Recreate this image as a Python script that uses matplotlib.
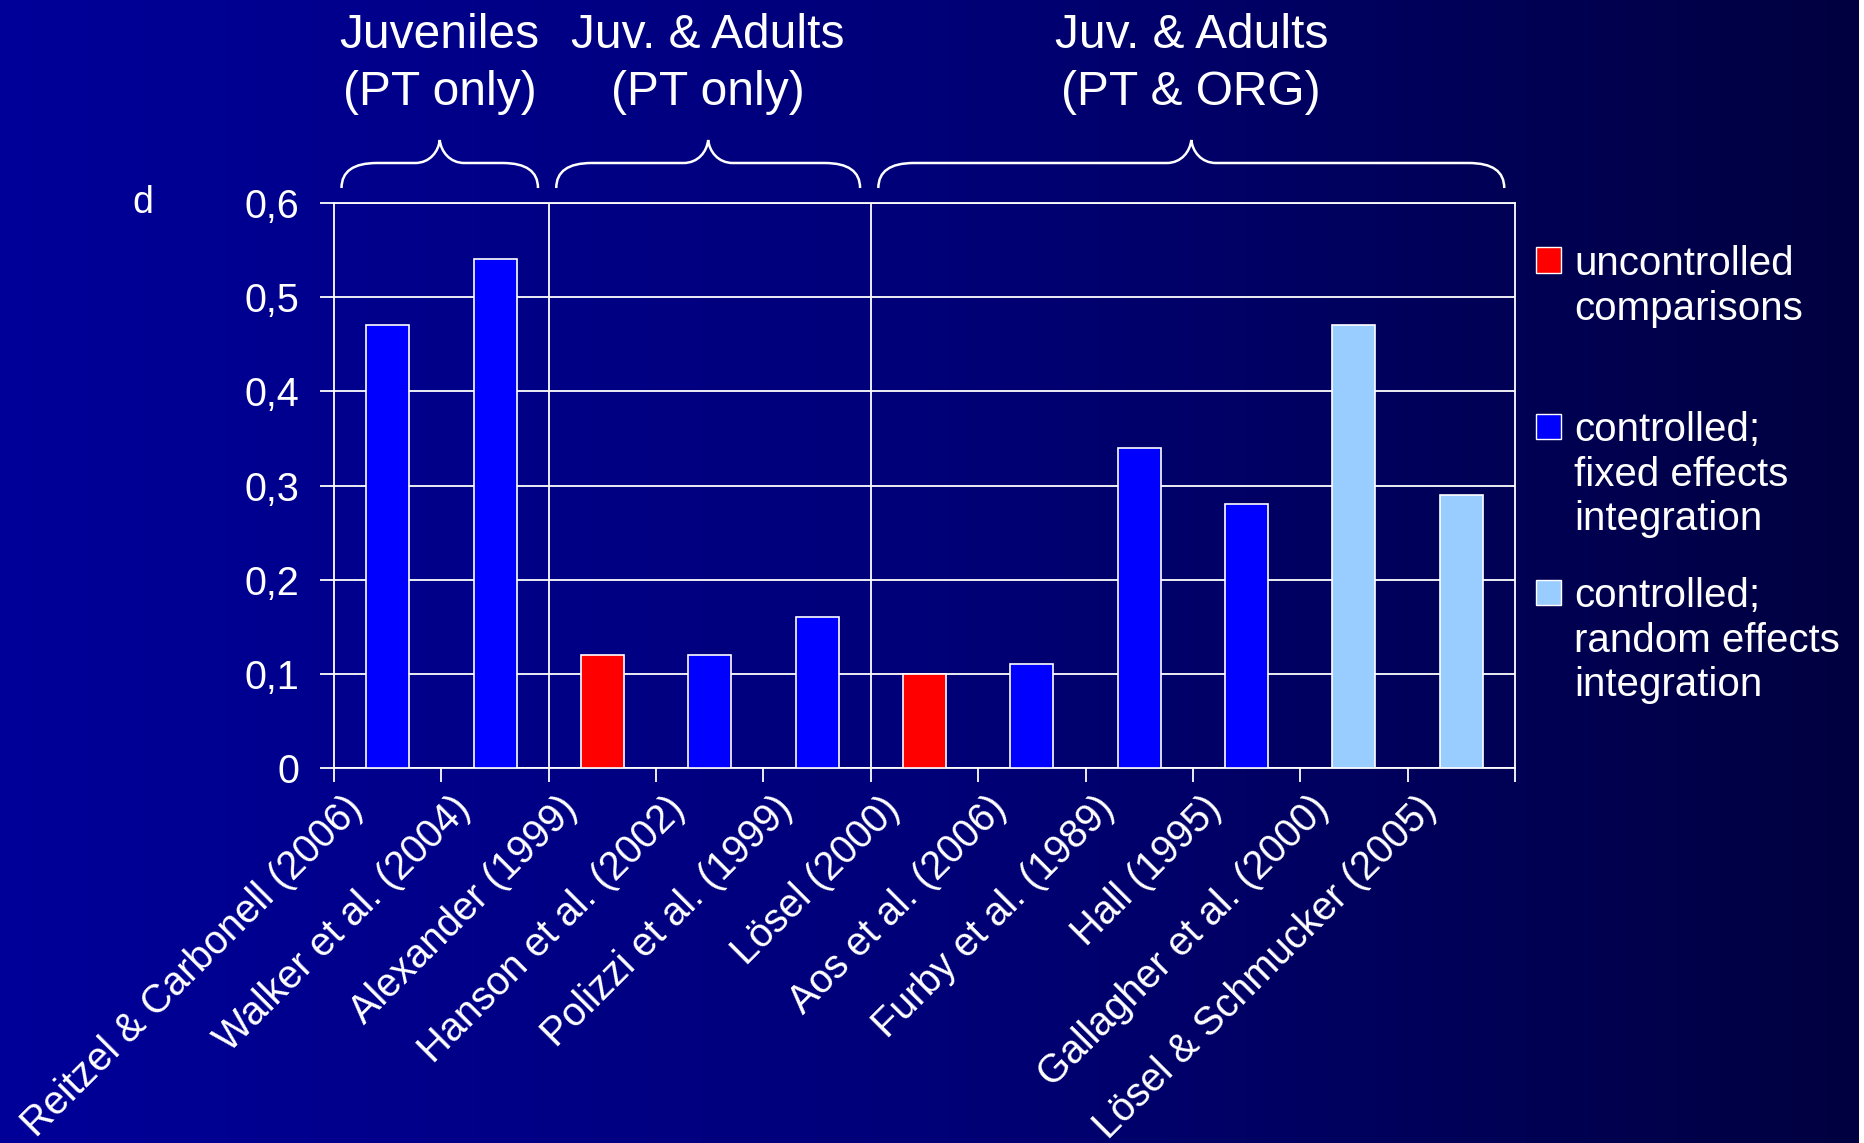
import numpy as np
import matplotlib
matplotlib.use('Agg')
import matplotlib.pyplot as plt
import matplotlib.transforms as mtransforms
from matplotlib.patches import Rectangle, PathPatch
from matplotlib.path import Path

plt.rcParams['font.family'] = ['Liberation Sans', 'DejaVu Sans']

# effect sizes (d) per meta-analysis
studies = ['Reitzel & Carbonell (2006)', 'Walker et al. (2004)', 'Alexander (1999)',
           'Hanson et al. (2002)', 'Polizzi et al. (1999)', 'Lösel (2000)',
           'Aos et al. (2006)', 'Furby et al. (1989)', 'Hall (1995)',
           'Gallagher et al. (2000)', 'Lösel & Schmucker (2005)']
d_values = [0.47, 0.54, 0.12, 0.12, 0.16, 0.10, 0.11, 0.34, 0.28, 0.47, 0.29]
design = ['fixed', 'fixed', 'uncontrolled', 'fixed', 'fixed', 'uncontrolled',
          'fixed', 'fixed', 'fixed', 'random', 'random']

design_order = ['uncontrolled', 'fixed', 'random']
design_colors = {'uncontrolled': '#FF0000', 'fixed': '#0000FF', 'random': '#99CCFF'}
design_labels = {'uncontrolled': ['uncontrolled', 'comparisons'],
                 'fixed': ['controlled;', 'fixed effects', 'integration'],
                 'random': ['controlled;', 'random effects', 'integration']}

# sample groups: (line 1, line 2, first study, end study)
groups = [('Juveniles', '(PT only)', 0, 2),
          ('Juv. & Adults', '(PT only)', 2, 5),
          ('Juv. & Adults', '(PT & ORG)', 5, 11)]

yticks = [0, 0.1, 0.2, 0.3, 0.4, 0.5, 0.6]
ytick_labels = ['0', '0,1', '0,2', '0,3', '0,4', '0,5', '0,6']

W, H = 1865, 1143
fig = plt.figure(figsize=(W / 100, H / 100), dpi=100)

# blue gradient background
bg = fig.add_axes([0, 0, 1, 1], zorder=-5)
xs = np.linspace(0, 1, 600)
blue = np.interp(xs, [0, 0.5, 1], [0.60, 0.47, 0.25])
grad = np.zeros((2, len(xs), 3))
grad[:, :, 2] = blue
bg.imshow(grad, aspect='auto', extent=[0, 1, 0, 1])
bg.set_axis_off()
fig.patches.append(Rectangle((1859 / W, 0), 6 / W, 1, transform=fig.transFigure,
                             facecolor='white', edgecolor='none', zorder=10))

ax = fig.add_axes([334 / W, 375 / H, 1181 / W, 565 / H])
ax.set_facecolor('none')

x = np.arange(len(studies)) + 0.5
ax.bar(x, d_values, width=0.4, color=[design_colors[k] for k in design],
       edgecolor='white', linewidth=1.2, zorder=3)

ax.set_xlim(0, len(studies))
ax.set_ylim(0, 0.6)

lw = 1.3
for s in ax.spines.values():
    s.set_color('white')
    s.set_linewidth(lw)
ax.set_yticks(yticks)
ax.set_yticklabels(ytick_labels)
ax.yaxis.grid(True, color='white', linewidth=lw)
ax.set_axisbelow(True)
for _, _, a, b in groups[:-1]:
    ax.axvline(b, color='white', linewidth=lw, zorder=1)

ax.tick_params(axis='y', colors='white', labelsize=28.5, length=10, width=lw, pad=15)
ax.set_xticks(np.arange(len(studies) + 1))
ax.set_xticklabels([])
ax.tick_params(axis='x', which='major', colors='white', length=10, width=lw)
ax.set_xticks(x, minor=True)
ax.set_xticklabels(studies, minor=True)
ax.tick_params(axis='x', which='minor', length=0, pad=25, labelsize=28.5, labelcolor='white')
shift = mtransforms.ScaledTranslation(-0.31, 0, fig.dpi_scale_trans)
for lab in ax.get_xticklabels(minor=True):
    lab.set_rotation(45)
    lab.set_ha('right')
    lab.set_va('center')
    lab.set_rotation_mode('anchor')
    lab.set_transform(lab.get_transform() + shift)

ax.text(-0.1617, 1.0, 'd', transform=ax.transAxes, ha='center', va='center',
        fontsize=27, color='white')

# braces and group titles above the plot
blend = mtransforms.blended_transform_factory(ax.transData, ax.transAxes)
yb, yf, yt = 1.0265, 1.0708, 1.1115
r_end, r_tip = 0.33, 0.23
for line1, line2, a, b in groups:
    x0, x1 = a + 0.07, b - 0.1
    xm = (x0 + x1) / 2
    verts = [(x0, yb), (x0, yf), (x0 + r_end, yf),
             (xm - r_tip, yf),
             (xm - 0.4 * r_tip, yf), (xm - 0.05 * r_tip, yf + 0.5 * (yt - yf)), (xm, yt),
             (xm + 0.05 * r_tip, yf + 0.5 * (yt - yf)), (xm + 0.4 * r_tip, yf), (xm + r_tip, yf),
             (x1 - r_end, yf),
             (x1, yf), (x1, yb)]
    codes = [Path.MOVETO, Path.CURVE3, Path.CURVE3,
             Path.LINETO,
             Path.CURVE4, Path.CURVE4, Path.CURVE4,
             Path.CURVE4, Path.CURVE4, Path.CURVE4,
             Path.LINETO,
             Path.CURVE3, Path.CURVE3]
    ax.add_patch(PathPatch(Path(verts, codes), transform=blend, fill=False,
                           edgecolor='white', linewidth=1.8, clip_on=False))
    ax.text(xm, 1.275, line1, transform=blend, ha='center', va='baseline',
            fontsize=34.5, color='white')
    ax.text(xm, 1.174, line2, transform=blend, ha='center', va='baseline',
            fontsize=34.5, color='white')

# legend
legend_rows = {'uncontrolled': 260, 'fixed': 426, 'random': 592}
for key in design_order:
    yc = legend_rows[key]
    fig.patches.append(Rectangle((1536 / W, 1 - (yc + 12.5) / H), 25 / W, 25 / H,
                                 transform=fig.transFigure, facecolor=design_colors[key],
                                 edgecolor='white', linewidth=1))
    for i, line in enumerate(design_labels[key]):
        fig.text(1574 / W, 1 - (yc + i * 44.5) / H, line, ha='left', va='center_baseline',
                 fontsize=29, color='white')

fig.savefig('out.png', dpi=100)
